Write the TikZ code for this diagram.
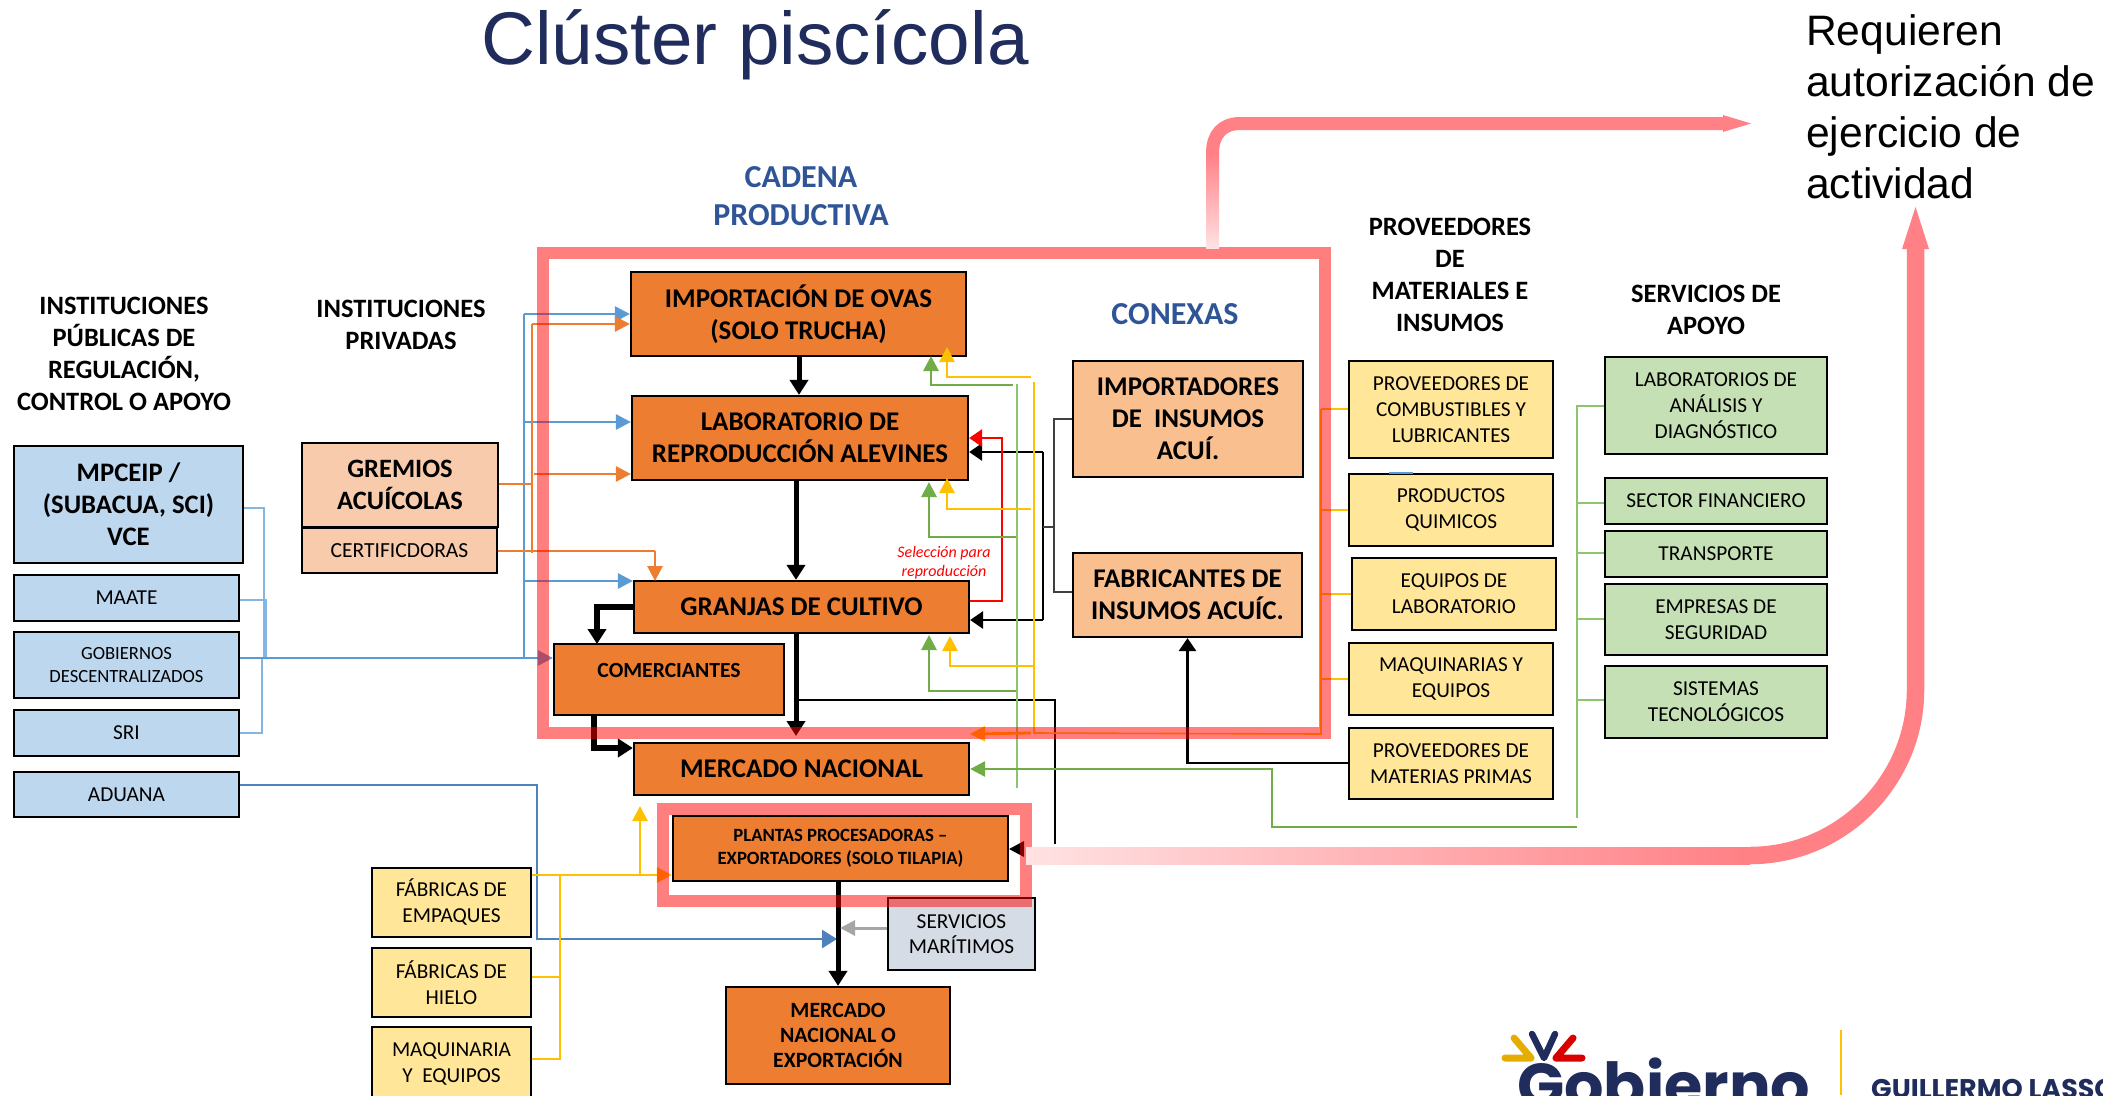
\documentclass[tikz,border=0pt]{standalone}
\usepackage{fontspec}
\setmainfont{Carlito}
\newfontfamily\arialf{Liberation Sans}
\newfontfamily\popf{Poppins}
\usetikzlibrary{arrows.meta}
\definecolor{orbox}{HTML}{ED7D31}
\definecolor{ylbox}{HTML}{FFE699}
\definecolor{grbox}{HTML}{C5E0B4}
\definecolor{blbox}{HTML}{BDD7EE}
\definecolor{pcbox}{HTML}{F8CBAD}
\definecolor{cxbox}{HTML}{F9BF8F}
\definecolor{gybox}{HTML}{D6DCE5}
\definecolor{blln}{HTML}{5B9BD5}
\definecolor{blthin}{HTML}{85B5E3}
\definecolor{blad}{HTML}{4F81BD}
\definecolor{orln}{HTML}{ED7D31}
\definecolor{yeln}{HTML}{FFC000}
\definecolor{grln}{HTML}{70AD47}
\definecolor{grthin}{HTML}{8FC46E}
\definecolor{pinkb}{HTML}{FF8085}
\definecolor{pale}{HTML}{FFE2E3}
\definecolor{navy}{HTML}{1F2C5C}
\definecolor{headbl}{HTML}{2F5597}
\tikzset{
 x=1pt,y=-1pt,
 box/.style={draw=black,line width=2.2pt,align=center,inner sep=0pt,text=black},
 orange/.style={box,fill=orbox,font=\fontsize{27}{32}\selectfont\bfseries},
 yellow/.style={box,fill=ylbox,font=\fontsize{21.3}{26}\selectfont},
 green/.style={box,fill=grbox,font=\fontsize{21.3}{26}\selectfont},
 blue/.style={box,fill=blbox,font=\fontsize{21.3}{26}\selectfont},
 heading/.style={align=center,inner sep=0pt,font=\fontsize{26.5}{32}\selectfont\bfseries},
 tipL/.style={-{Triangle[length=15pt,width=18pt]}},
 tipM/.style={-{Triangle[length=15pt,width=15pt]}},
 tipS/.style={-{Triangle[length=13pt,width=17pt]}},
 thinln/.style={line width=1.3pt},
 midln/.style={line width=2.8pt},
 fatln/.style={line width=5.5pt},
}
\newcommand{\BX}[7][]{%
 \pgfmathsetmacro{\cxx}{(#3+#5)/2}\pgfmathsetmacro{\cyy}{(#4+#6)/2}%
 \pgfmathsetmacro{\ww}{#5-#3}\pgfmathsetmacro{\hh}{#6-#4}%
 \node[#1,minimum width=\ww pt,minimum height=\hh pt] (#2) at (\cxx,\cyy) {#7};}
\begin{document}
\begin{tikzpicture}
\useasboundingbox (0,0) rectangle (2103,1095);
\clip (0,0) rectangle (2103,1095);
% headings
\node[font=\arialf\fontsize{74.6}{80}\selectfont,text=navy,inner sep=0pt] (title) at (755,45) {Clúster piscícola};
\node[font=\arialf\fontsize{42.6}{51}\selectfont,align=left,inner sep=0pt,anchor=north west] (req) at (1806,14) {Requieren\\autorización de\\ejercicio de\\actividad};
\node[heading] (hpub) at (124,354) {INSTITUCIONES\\PÚBLICAS DE\\REGULACIÓN,\\CONTROL O APOYO};
\node[heading] (hpri) at (401,325) {INSTITUCIONES\\PRIVADAS};
\node[heading,text=headbl,font=\fontsize{32}{38}\selectfont\bfseries] (hcad) at (801,196) {CADENA\\PRODUCTIVA};
\node[heading,text=headbl,font=\fontsize{32}{32}\selectfont\bfseries] (hcon) at (1175,314) {CONEXAS};
\node[heading] (hpro) at (1450,275) {PROVEEDORES\\DE\\MATERIALES E\\INSUMOS};
\node[heading] (hser) at (1706,310) {SERVICIOS DE\\APOYO};
\node[align=center,inner sep=0pt,text=red,font=\fontsize{16}{19}\selectfont\itshape] (lsel) at (944,563) {Selección para\\reproducción};
% central chain
\BX[orange]{imp}{631}{272}{966}{356}{IMPORTACIÓN DE OVAS\\(SOLO TRUCHA)}
\BX[orange]{lab}{632}{396}{968}{480}{LABORATORIO DE\\REPRODUCCIÓN ALEVINES}
\BX[orange]{gra}{634}{581}{969}{633}{GRANJAS DE CULTIVO}
\BX[orange,font=\fontsize{21.6}{26}\selectfont\bfseries]{com}{554}{644}{784}{715}{\raisebox{19pt}{COMERCIANTES}}
\BX[orange]{mer}{634}{743}{969}{795}{MERCADO NACIONAL}
\BX[orange,font=\fontsize{18.7}{23}\selectfont\bfseries]{pla}{673}{816}{1008}{881}{PLANTAS PROCESADORAS –\\EXPORTADORES (SOLO TILAPIA)}
\BX[orange,font=\fontsize{21.8}{25}\selectfont\bfseries]{exp}{726}{987}{950}{1084}{MERCADO\\NACIONAL O\\EXPORTACIÓN}
\BX[box,fill=gybox,font=\fontsize{21.3}{25}\selectfont]{mar}{888}{898}{1035}{970}{SERVICIOS\\MARÍTIMOS}
% conexas
\BX[orange,fill=cxbox]{ipt}{1073}{361}{1303}{477}{IMPORTADORES\\DE~ INSUMOS\\ACUÍ.}
\BX[orange,fill=cxbox]{fab}{1073}{553}{1302}{637}{FABRICANTES DE\\INSUMOS ACUÍC.}
% left
\BX[blue,font=\fontsize{26.7}{32}\selectfont\bfseries]{mpc}{14}{446}{243}{563}{MPCEIP /\\(SUBACUA, SCI)\\VCE}
\BX[blue]{maa}{14}{575}{239}{621}{MAATE}
\BX[blue,font=\fontsize{18.6}{23}\selectfont]{gob}{14}{632}{239}{698}{GOBIERNOS\\DESCENTRALIZADOS}
\BX[blue]{sri}{14}{710}{239}{756}{SRI}
\BX[blue]{adu}{14}{772}{239}{817}{ADUANA}
\BX[box,fill=pcbox,font=\fontsize{26.5}{32}\selectfont\bfseries]{gre}{302}{443}{498}{527}{GREMIOS\\ACUÍCOLAS}
\BX[box,fill=pcbox,font=\fontsize{21.5}{26}\selectfont]{cer}{302}{528}{497}{573}{CERTIFICDORAS}
% lower yellow
\BX[yellow]{fem}{372}{868}{531}{937}{FÁBRICAS DE\\EMPAQUES}
\BX[yellow]{fhi}{372}{948}{531}{1017}{FÁBRICAS DE\\HIELO}
\BX[yellow]{maq}{372}{1027}{531}{1101}{MAQUINARIA\\Y~ EQUIPOS}
% suppliers
\BX[yellow]{pcb}{1349}{361}{1553}{458}{PROVEEDORES DE\\COMBUSTIBLES Y\\LUBRICANTES}
\BX[yellow]{pqu}{1349}{474}{1553}{546}{PRODUCTOS\\QUIMICOS}
\BX[yellow]{peq}{1352}{558}{1556}{630}{EQUIPOS DE\\LABORATORIO}
\BX[yellow]{pma}{1349}{643}{1553}{715}{MAQUINARIAS Y\\EQUIPOS}
\BX[yellow]{ppr}{1349}{728}{1553}{799}{PROVEEDORES DE\\MATERIAS PRIMAS}
% services
\BX[green]{sla}{1605}{357}{1827}{454}{LABORATORIOS DE\\ANÁLISIS Y\\DIAGNÓSTICO}
\BX[green]{sfi}{1605}{478}{1827}{524}{SECTOR FINANCIERO}
\BX[green]{str}{1605}{531}{1827}{577}{TRANSPORTE}
\BX[green]{sem}{1605}{584}{1827}{655}{EMPRESAS DE\\SEGURIDAD}
\BX[green]{ssi}{1605}{666}{1827}{738}{SISTEMAS\\TECNOLÓGICOS}
% junctions
\coordinate (jb) at (524,658);
\coordinate (jo) at (532,484);
\coordinate (jg) at (1017,384);
\coordinate (jy) at (1034,382);
\coordinate (jk) at (1043,527);
\coordinate (jc) at (1055,700);
\coordinate (jp) at (1321,734);
\coordinate (js) at (1577,827);
\coordinate (jf) at (1272,769);
% blue left bundle
\draw[blthin,line width=1.6pt] (mpc.east |- 0,508) -| (264,658);
\draw[blthin,line width=1.6pt] (maa.east |- 0,600) -| (266,658);
\draw[blthin,thinln] (sri.east |- 0,733) -| (262,658);
\draw[blln,midln,tipM] (gob.east |- 0,658) -- (com.west |- jb);
\draw[blln,midln] (jb) -- (524,314);
\draw[blln,midln,tipM] (524,314) -- (imp.west |- 0,314);
\draw[blln,midln,tipM] (524,422) -- (lab.west |- 0,422);
\draw[blln,midln,tipM] (524,581) -- (gra.west |- 0,581);
\draw[blad,midln,tipL] (adu.east |- 0,785) -| (537,939) -- (837,939);
% orange from gremios
\draw[orln,thinln] (gre.east |- jo) -- (jo);
\draw[orln,thinln] (532,553) -- (532,324);
\draw[orln,midln,tipM] (532,324) -- (imp.west |- 0,324);
\draw[orln,midln,tipM] (534,474) -- (lab.west |- 0,474);
\draw[orln,line width=1.6pt] (cer.east |- 0,551) -- (655,551);
\draw[orln,midln,tipM] (655,551) -- (655,581);
% main chain
\draw[black,line width=5pt,tipL] (imp.south -| 799,0) -- (lab.north -| 799,0);
\draw[black,line width=5pt,tipL] (lab.south -| 796,0) -- (gra.north -| 796,0);
\draw[black,fatln,tipL] (gra.west |- 0,607) -| (597,644);
\draw[black,line width=5pt,tipL] (gra.south -| 796,0) -- (796,736);
\draw[black,fatln,tipL] (594,715) -- (594,748) -- (mer.west |- 0,748);
\draw[black,line width=5pt,tipL] (pla.south -| exp.north) -- (exp.north);
\draw[black,midln] (796,700) -- (jc) -- (1055,844);
\fill[black] (1024,841) -- (pla.east |- 0,849) -- (1024,857) -- cycle;
% services maritimos
\draw[black!35,line width=3pt,tipM] (mar.west |- 0,928) -- (840,928);
% black right
\draw[black,midln] (1043,452) -- (1043,620);
\draw[black,midln,tipS] (1043,452) -- (lab.east |- 0,452);
\draw[black,midln,tipS] (1043,620) -- (gra.east |- 0,620);
\draw[black!75,line width=1.6pt] (ipt.west |- 0,419) -| (1054,592) -- (fab.west |- 0,592);
\draw[black!75,line width=1.6pt] (jk) -- (1054,527);
% red
\draw[red,midln,tipS] (gra.east |- 0,601) -| (1002,438) -- (lab.east |- 0,438);
% green arrows
\draw[grln,midln,tipM] (1013,385) -| (931,356);
\draw[grln,midln,tipM] (jg |- 0,537) -| (929,482);
\draw[grln,midln,tipM] (jg |- 0,691) -| (929,635);
\draw[grthin,line width=1.6pt] (jg) -- (1017,788);
% yellow arrows
\draw[yeln,midln,tipM] (1031,377) -| (947,347);
\draw[yeln,midln,tipM] (1031,509) -| (947,478);
\draw[yeln,midln,tipM] (jy |- 0,666) -| (950,636);
\draw[yeln,line width=1.6pt] (jy) -- (1034,733) -- (jp) -- (1321,409);
\draw[yeln,midln,tipM] (1031,733) -- (mer.east |- 0,734);
\draw[yeln,line width=1.6pt] (1321,409) -- (pcb.west |- 0,409);
\draw[yeln,line width=1.6pt] (1321,510) -- (pqu.west |- 0,510);
\draw[yeln,line width=1.6pt] (1321,594) -- (peq.west |- 0,594);
\draw[yeln,line width=1.6pt] (1321,679) -- (pma.west |- 0,679);
% lower yellow
\draw[yeln,midln,tipM] (fem.east |- 0,875) -- (pla.west |- 0,875);
\draw[yeln,midln,tipM] (640,875) -- (640,806);
\draw[yeln,line width=1.6pt] (560,875) -- (560,1059) -- (maq.east |- 0,1059);
\draw[yeln,line width=1.6pt] (fhi.east |- 0,977) -- (560,977);
% black from providers
\draw[black,midln,tipS] (ppr.west |- 0,763) -| (fab.south);
% green services
\draw[grln,midln,tipM] (js) -- (jf |- js) -- (jf) -- (mer.east |- jf);
\draw[grthin,line width=1.6pt] (1577,818) -- (1577,406) -- (sla.west |- 0,406);
\draw[grthin,line width=1.6pt] (1577,503) -- (sfi.west |- 0,503);
\draw[grthin,line width=1.6pt] (1577,553) -- (str.west |- 0,553);
\draw[grthin,line width=1.6pt] (1577,619) -- (sem.west |- 0,619);
\draw[grthin,line width=1.6pt] (1577,700) -- (ssi.west |- 0,700);
\draw[blln,line width=1.5pt] (1389,473) -- (1413,473);
% red translucent frames
\draw[red,opacity=.5,line width=12pt] (543,253) rectangle (1325,733);
\draw[red,opacity=.5,line width=12pt] (663,809) rectangle (1026,901);
% big pink arrows
\coordinate (upA) at (1212.5,248);
\coordinate (upB) at (1212.5,153);
\shade[bottom color=pale,top color=pinkb] (1206,248) rectangle (1219,153);
\draw[pinkb,line width=13pt] (upB) .. controls (1212.5,135) and (1222,123.5) .. (1240,123.5) -- (1725,123.5);
\fill[pinkb] (1723,115) -- (1751,123.5) -- (1723,132) -- cycle;
\coordinate (bdA) at (1026,855.5);
\coordinate (bdB) at (1750,855.5);
\shade[left color=pale,right color=pinkb] (1026,847) rectangle (1750,864);
\draw[pinkb,line width=17.5pt] (bdB) .. controls (1841,855.5) and (1915.5,781) .. (1915.5,690) -- (1915.5,249);
\fill[pinkb] (1902,249) -- (1915.5,207) -- (1929,249) -- cycle;
% logo
\draw[yeln!90!black,line width=7pt,line cap=round,line join=round] (1514,1038) -- (1531,1058) -- (1505,1058);
\draw[navy,line width=6.5pt,line cap=round,line join=round] (1532,1034) -- (1544,1058) -- (1555,1034);
\draw[red!85!black,line width=7pt,line cap=round,line join=round] (1573,1038) -- (1556,1058) -- (1582,1058);
\node[anchor=base west,inner sep=0pt,text=navy,font=\popf\bfseries\fontsize{62}{64}\selectfont] (gob2) at (1517,1107) {Gobierno};
\draw[yeln,line width=2.5pt] (1841,1030) -- (1841,1095);
\node[anchor=base west,inner sep=0pt,text=navy,font=\popf\bfseries\fontsize{27}{28}\selectfont] (gl) at (1871,1098) {GUILLERMO LASSO};
\end{tikzpicture}
\end{document}
